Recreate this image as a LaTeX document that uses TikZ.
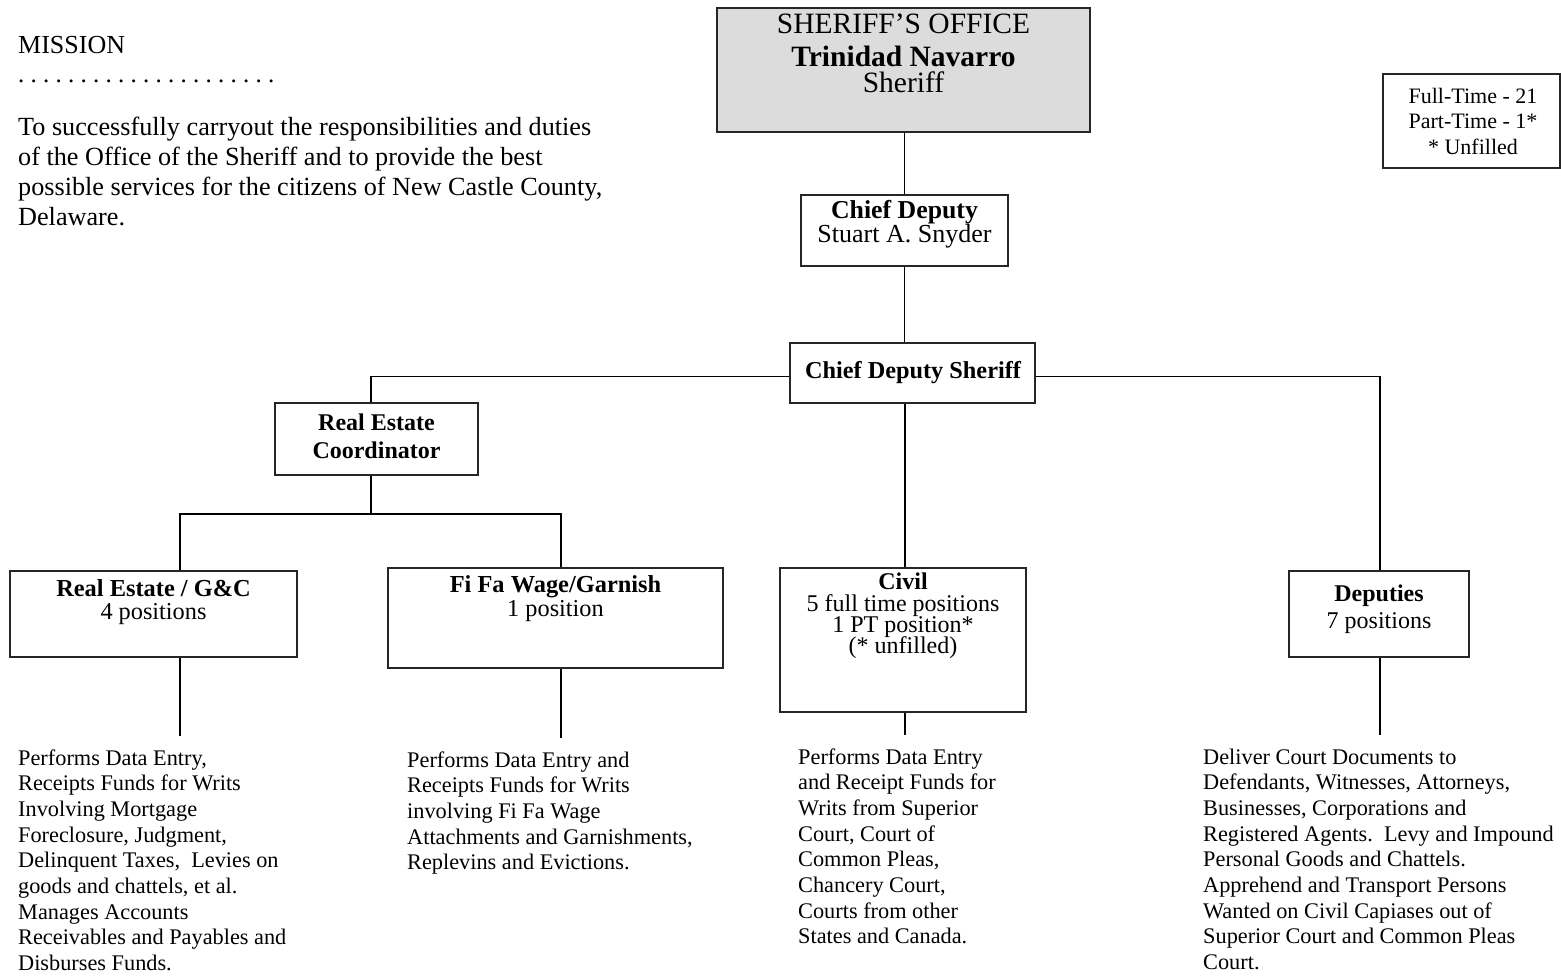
\documentclass[tikz,border=0pt]{standalone}
\usepackage{fontspec}
\setmainfont{Liberation Serif}
\definecolor{hdrfill}{HTML}{DCDCDC}
\definecolor{boxline}{HTML}{262626}
\newcommand\fs[2]{\fontsize{#1}{#2}\selectfont}
\newcommand\Lines[2]{\vtop{\baselineskip=#1\relax\lineskiplimit=-100pt\lineskip=0pt\halign{##\hfil\cr#2\crcr}}}
\tikzset{
  orgbox/.style={draw=boxline, line width=1.6pt, inner sep=0pt, fill=white},
  conn/.style={line width=1.8pt, draw=black},
  txt/.style={inner sep=0pt, anchor=base},
  para/.style={inner sep=0pt, anchor=base west, font=\fs{22.3}{25.7}},
}
\begin{document}
\begin{tikzpicture}[x=1pt,y=-1pt]
\useasboundingbox (0,0) rectangle (1561,975);

% ---- mission ----
\node[inner sep=0pt, anchor=base west, font=\fs{26}{30}] (mission) at (18,53.5) {MISSION};
\node[inner sep=0pt, anchor=base west, font=\fs{25}{30}\frenchspacing] (dots) at (18,82) {. . . . . . . . . . . . . . . . . . . . .};
\node[inner sep=0pt, anchor=base west, font=\fs{26.2}{30}] (mtext) at (18,135.5) {\Lines{30pt}{To successfully carryout the responsibilities and duties\cr
of the Office of the Sheriff and to provide the best\cr
possible services for the citizens of New Castle County,\cr
Delaware.}};

% ---- count box ----
\node[orgbox, minimum width=176.5pt, minimum height=94pt] (count) at (1471.5,121) {};
\node[txt, font=\fs{22}{25}] (count1) at (1473,103) {Full-Time - 21};
\node[txt, font=\fs{22}{25}] (count2) at (1473,128) {Part-Time - 1*};
\node[txt, font=\fs{22}{25}] (count3) at (1473,154) {* Unfilled};

% ---- sheriff ----
\node[orgbox, fill=hdrfill, minimum width=373pt, minimum height=124pt] (sheriff) at (903.5,70) {};
\node[txt, font=\fs{29.5}{30}] (sh1) at (903.5,33) {SHERIFF’S OFFICE};
\node[txt, font=\fs{29.5}{30}\bfseries] (sh2) at (903.5,66.5) {Trinidad Navarro};
\node[txt, font=\fs{29.5}{30}] (sh3) at (903.5,92) {Sheriff};

% ---- chief deputy ----
\node[orgbox, minimum width=207pt, minimum height=71pt] (cd) at (904.5,230.5) {};
\node[txt, font=\fs{25.8}{26}\bfseries] (cd1) at (904.5,218) {Chief Deputy};
\node[txt, font=\fs{26}{26}] (cd2) at (904.5,242) {Stuart A. Snyder};

% ---- chief deputy sheriff ----
\node[orgbox, minimum width=245pt, minimum height=60pt] (cds) at (912.5,373) {};
\node[txt, font=\fs{24.3}{26}\bfseries] (cds1) at (913,378) {Chief Deputy Sheriff};

% ---- real estate coordinator ----
\node[orgbox, minimum width=203pt, minimum height=72pt] (rec) at (376.5,439) {};
\node[txt, font=\fs{24}{28}\bfseries] (rec1) at (376.5,430) {Real Estate};
\node[txt, font=\fs{24}{28}\bfseries] (rec2) at (376.5,458) {Coordinator};

% ---- real estate / G&C ----
\node[orgbox, minimum width=287pt, minimum height=86pt] (re) at (153.5,614) {};
\node[txt, font=\fs{24.4}{26}\bfseries] (re1) at (153.5,596) {Real Estate / G\&C};
\node[txt, font=\fs{24.3}{26}] (re2) at (153.5,619) {4 positions};

% ---- fi fa ----
\node[orgbox, minimum width=335pt, minimum height=100pt] (fifa) at (555.5,618) {};
\node[txt, font=\fs{24.4}{26}\bfseries] (ff1) at (555.5,592) {Fi Fa Wage/Garnish};
\node[txt, font=\fs{24.3}{26}] (ff2) at (555.5,616) {1 position};

% ---- civil ----
\node[orgbox, minimum width=246pt, minimum height=144pt] (civ) at (903,640) {};
\node[txt, font=\fs{24}{26}\bfseries] (cv1) at (903,589) {Civil};
\node[txt, font=\fs{24}{26}] (cv2) at (903,611) {5 full time positions};
\node[txt, font=\fs{24}{26}] (cv3) at (903,632) {1 PT position*};
\node[txt, font=\fs{24}{26}] (cv4) at (903,653) {(* unfilled)};

% ---- deputies ----
\node[orgbox, minimum width=180pt, minimum height=86pt] (deps) at (1379,614) {};
\node[txt, font=\fs{24}{26}\bfseries] (dp1) at (1379,601) {Deputies};
\node[txt, font=\fs{24}{26}] (dp2) at (1379,628) {7 positions};

% ---- connectors ----
\draw[conn] (sheriff.south -| cd.north) -- (cd.north);
\draw[conn] (cd.south) -- (cd.south |- cds.north);
\draw[conn] ([yshift=-3.5pt]cds.west) -| ([xshift=-5.5pt]rec.north);
\draw[conn] ([yshift=-3.5pt]cds.east) -| ([xshift=1pt]deps.north);
\draw[conn] ([xshift=2pt]civ.north |- cds.south) -- ([xshift=2pt]civ.north);
\coordinate (rebar) at (371,514);
\draw[conn] ([xshift=-5.5pt]rec.south) -- (rebar);
\draw[conn] ([xshift=26.5pt]re.north) |- (rebar) -| ([xshift=5.5pt]fifa.north);

\coordinate (re-end) at (180,736);
\coordinate (ff-end) at (561,738);
\coordinate (cv-end) at (905,735);
\coordinate (dp-end) at (1380,735);
\draw[conn] ([xshift=26.5pt]re.south) -- (re-end);
\draw[conn] ([xshift=5.5pt]fifa.south) -- (ff-end);
\draw[conn] ([xshift=2pt]civ.south) -- (cv-end);
\draw[conn] ([xshift=1pt]deps.south) -- (dp-end);

% ---- descriptions ----
\node[para] (re-d) at (18,765) {\Lines{25.7pt}{Performs Data Entry,\cr
Receipts Funds for Writs\cr
Involving Mortgage\cr
Foreclosure, Judgment,\cr
Delinquent Taxes,\ \ Levies on\cr
goods and chattels, et al.\cr
Manages Accounts\cr
Receivables and Payables and\cr
Disburses Funds.}};
\node[para] (ff-d) at (407,767) {\Lines{25.7pt}{Performs Data Entry and\cr
Receipts Funds for Writs\cr
involving Fi Fa Wage\cr
Attachments and Garnishments,\cr
Replevins and Evictions.}};
\node[para] (cv-d) at (798,764) {\Lines{25.7pt}{Performs Data Entry\cr
and Receipt Funds for\cr
Writs from Superior\cr
Court, Court of\cr
Common Pleas,\cr
Chancery Court,\cr
Courts from other\cr
States and Canada.}};
\node[para] (dp-d) at (1203,764) {\Lines{25.7pt}{Deliver Court Documents to\cr
Defendants, Witnesses, Attorneys,\cr
Businesses, Corporations and\cr
Registered Agents.\ \ Levy and Impound\cr
Personal Goods and Chattels.\cr
Apprehend and Transport Persons\cr
Wanted on Civil Capiases out of\cr
Superior Court and Common Pleas\cr
Court.}};
\end{tikzpicture}
\end{document}
